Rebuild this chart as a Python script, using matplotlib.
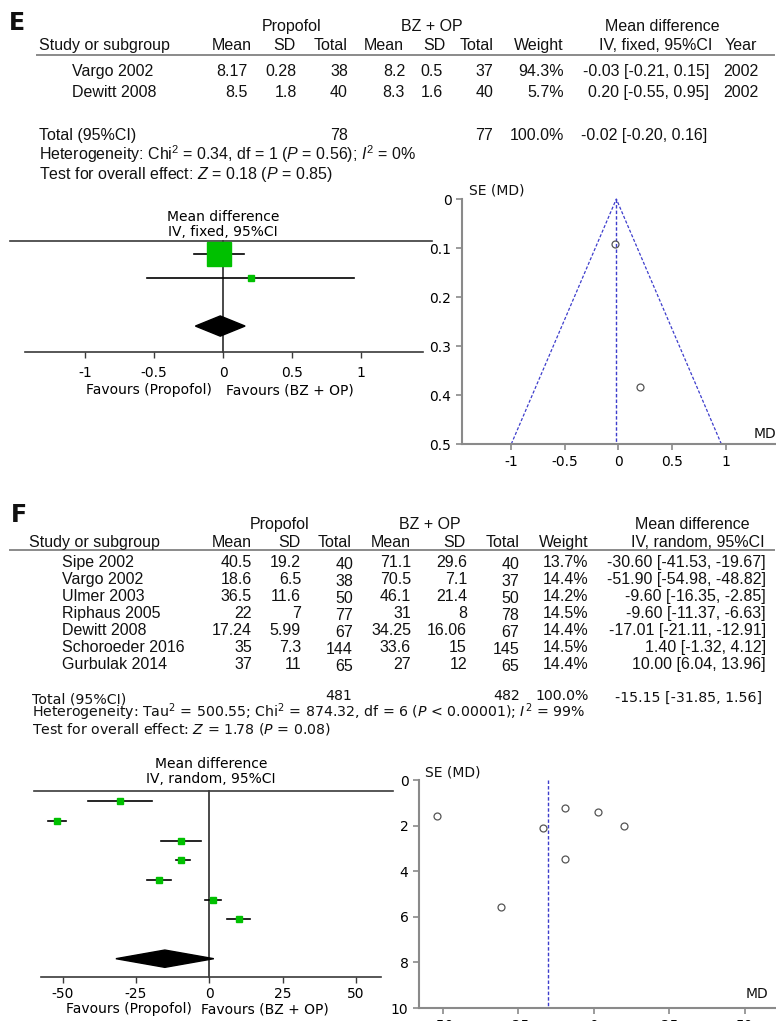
import matplotlib
matplotlib.use('Agg')
import matplotlib.pyplot as plt
from matplotlib import font_manager as fm
from matplotlib.lines import Line2D
from matplotlib.patches import Polygon
import numpy as np

# ---------------- panel E data ----------------
e_studies = ['Vargo 2002', 'Dewitt 2008']
e_prop_mean = ['8.17', '8.5']
e_prop_sd = ['0.28', '1.8']
e_prop_n = [38, 40]
e_bz_mean = ['8.2', '8.3']
e_bz_sd = ['0.5', '1.6']
e_bz_n = [37, 40]
e_weight = [94.3, 5.7]
e_md = [-0.03, 0.20]
e_lo = [-0.21, -0.55]
e_hi = [0.15, 0.95]
e_year = ['2002', '2002']
e_total = [78, 77]
e_pooled = [-0.02, -0.20, 0.16]
e_het = r'Heterogeneity: Chi$^2$ = 0.34, df = 1 ($P$ = 0.56); $I^2$ = 0%'
e_test = r'Test for overall effect: $Z$ = 0.18 ($P$ = 0.85)'
e_ticks = [-1, -0.5, 0, 0.5, 1]
e_tick_labels = ['-1', '-0.5', '0', '0.5', '1']
e_se_ticks = [0, 0.1, 0.2, 0.3, 0.4, 0.5]

# ---------------- panel F data ----------------
f_studies = ['Sipe 2002', 'Vargo 2002', 'Ulmer 2003', 'Riphaus 2005',
             'Dewitt 2008', 'Schoroeder 2016', 'Gurbulak 2014']
f_prop_mean = ['40.5', '18.6', '36.5', '22', '17.24', '35', '37']
f_prop_sd = ['19.2', '6.5', '11.6', '7', '5.99', '7.3', '11']
f_prop_n = [40, 38, 50, 77, 67, 144, 65]
f_bz_mean = ['71.1', '70.5', '46.1', '31', '34.25', '33.6', '27']
f_bz_sd = ['29.6', '7.1', '21.4', '8', '16.06', '15', '12']
f_bz_n = [40, 37, 50, 78, 67, 145, 65]
f_weight = [13.7, 14.4, 14.2, 14.5, 14.4, 14.5, 14.4]
f_md = [-30.60, -51.90, -9.60, -9.60, -17.01, 1.40, 10.00]
f_lo = [-41.53, -54.98, -16.35, -11.37, -21.11, -1.32, 6.04]
f_hi = [-19.67, -48.82, -2.85, -6.63, -12.91, 4.12, 13.96]
f_total = [481, 482]
f_pooled = [-15.15, -31.85, 1.56]
f_het = (r'Heterogeneity: Tau$^2$ = 500.55; Chi$^2$ = 874.32, df = 6 '
         r'($P$ < 0.00001); $I^2$ = 99%')
f_test = r'Test for overall effect: $Z$ = 1.78 ($P$ = 0.08)'
f_ticks = [-50, -25, 0, 25, 50]
f_se_ticks = [0, 2, 4, 6, 8, 10]


def pick_font(names):
    for n in names:
        try:
            fm.findfont(fm.FontProperties(family=n), fallback_to_default=False)
            return n
        except ValueError:
            pass
    return 'DejaVu Sans'


NARROW = pick_font(['Liberation Sans Narrow', 'DejaVu Sans Condensed', 'Liberation Sans'])
WIDE = 'DejaVu Sans'
plt.rcParams['font.family'] = WIDE
plt.rcParams['mathtext.fontset'] = 'custom'
plt.rcParams['mathtext.rm'] = NARROW
plt.rcParams['mathtext.it'] = NARROW + ':italic'

W, H = 776, 1021
fig = plt.figure(figsize=(W / 100, H / 100), dpi=100)

GREEN = '#00c000'
DARK = '#3a3a3a'
GREY = '#8a8a8a'
BLUE = '#3d3dcc'


def put(x, yc, s, ha='left', size=11.5, family=NARROW, **kw):
    # yc is the visual centre of the capitals, in pixels from the top
    base = yc + 0.36 * size * 100 / 72
    fig.text(x / W, 1 - base / H, s, ha=ha, va='baseline', fontsize=size,
             family=family, color='#111111', **kw)


def hline(x0, x1, y, color=GREY, lw=1.4):
    fig.add_artist(Line2D([x0 / W, x1 / W], [1 - y / H, 1 - y / H],
                          color=color, lw=lw, transform=fig.transFigure))


def px_axes(left, top, right, bottom):
    return fig.add_axes([left / W, 1 - bottom / H, (right - left) / W, (bottom - top) / H])


def fmt_ci(m, lo, hi):
    return f'{m:.2f} [{lo:.2f}, {hi:.2f}]'


# ================= E table =================
put(9, 21, 'E', size=17, family=WIDE, fontweight='bold')
put(292, 25, 'Propofol', ha='center')
put(432, 25, 'BZ + OP', ha='center')
put(662, 25, 'Mean difference', ha='center')
put(39, 44, 'Study or subgroup')
e_hdr = ['Mean', 'SD', 'Total', 'Mean', 'SD', 'Total', 'Weight', 'IV, fixed, 95%CI', 'Year']
e_hdr_x = [252, 296, 347, 404, 446, 494, 564, 712, 757]
for s, x in zip(e_hdr, e_hdr_x):
    put(x, 44, s, ha='right')
hline(37, 774, 55)

e_col_x = [248, 297, 348, 405, 443, 493, 564, 709, 759]
e_row_y = [70, 91]
for i, name in enumerate(e_studies):
    y = e_row_y[i]
    put(72, y, name)
    vals = [e_prop_mean[i], e_prop_sd[i], str(e_prop_n[i]), e_bz_mean[i], e_bz_sd[i],
            str(e_bz_n[i]), f'{e_weight[i]:.1f}%', fmt_ci(e_md[i], e_lo[i], e_hi[i]), e_year[i]]
    for v, x in zip(vals, e_col_x):
        put(x, y, v, ha='right')

put(39, 134, 'Total (95%CI)')
put(348, 134, str(e_total[0]), ha='right')
put(493, 134, str(e_total[1]), ha='right')
put(564, 134, f'{sum(e_weight):.1f}%', ha='right')
put(707, 134, fmt_ci(*e_pooled), ha='right')
put(39, 154, e_het)
put(39, 173, e_test)

# ================= F table =================
put(11, 513, 'F', size=17, family=WIDE, fontweight='bold')
put(280, 523, 'Propofol', ha='center')
put(430, 523, 'BZ + OP', ha='center')
put(692, 523, 'Mean difference', ha='center')
put(29, 541, 'Study or subgroup')
f_hdr = ['Mean', 'SD', 'Total', 'Mean', 'SD', 'Total', 'Weight', 'IV, random, 95%CI']
f_hdr_x = [252, 301, 352, 411, 466, 519, 589, 765]
for s, x in zip(f_hdr, f_hdr_x):
    put(x, 541, s, ha='right')
hline(10, 774, 550)

f_col_x = [252, 301, 353, 411, 467, 519, 588, 766]
f_col_dy = [0, 0, 2.5, 0, 0, 2.5, 0, 0]
for i, name in enumerate(f_studies):
    y = 561 + 17 * i
    put(62, y, name)
    vals = [f_prop_mean[i], f_prop_sd[i], str(f_prop_n[i]), f_bz_mean[i], f_bz_sd[i],
            str(f_bz_n[i]), f'{f_weight[i]:.1f}%', fmt_ci(f_md[i], f_lo[i], f_hi[i])]
    for v, x, dy in zip(vals, f_col_x, f_col_dy):
        put(x, y + dy, v, ha='right')

FS = 10.2
put(32, 698, 'Total (95%CI)', size=FS, family=WIDE)
put(352, 695, str(f_total[0]), ha='right', size=FS, family=WIDE)
put(520, 695, str(f_total[1]), ha='right', size=FS, family=WIDE)
put(589, 695, '100.0%', ha='right', size=FS, family=WIDE)
put(762, 697, fmt_ci(*f_pooled), ha='right', size=FS, family=WIDE)
put(32, 712, f_het, size=FS, family=WIDE, math_fontfamily='dejavusans')
put(32, 728, f_test, size=FS, family=WIDE, math_fontfamily='dejavusans')


# ================= forest plots =================
def forest(ax, md, lo, hi, weight, pooled, xlim, ylim, bounds, ticks, tick_labels,
           sq_scale, dia_h, pad, header, hdr_y, hdr_x, fav_y, fav_gap):
    n = len(md)
    ax.set_xlim(*xlim)
    ax.set_ylim(*ylim)
    for i in range(n):
        ax.plot([lo[i], hi[i]], [i, i], color='black', lw=1.2, zorder=2)
        ax.plot(md[i], i, marker='s', ms=sq_scale * np.sqrt(weight[i]),
                color=GREEN, mec=GREEN, zorder=3)
    m, l, h = pooled
    ax.add_patch(Polygon([[l, n + 1], [m, n + 1 - dia_h], [h, n + 1], [m, n + 1 + dia_h]],
                         closed=True, color='black', zorder=3))
    ax.plot([0, 0], list(ylim), color=DARK, lw=1.3, zorder=1, clip_on=False)
    for side in ['left', 'right']:
        ax.spines[side].set_visible(False)
    ax.spines['top'].set_color(DARK)
    ax.spines['top'].set_linewidth(1.2)
    ax.spines['bottom'].set_color(DARK)
    ax.spines['bottom'].set_linewidth(1.2)
    ax.spines['bottom'].set_bounds(*bounds)
    ax.set_yticks([])
    ax.set_xticks(ticks)
    ax.set_xticklabels(tick_labels)
    ax.tick_params(axis='x', direction='out', length=4, width=1, color=DARK,
                   labelsize=10, pad=pad)
    ax.patch.set_alpha(0)
    ax.text(hdr_x, hdr_y[0], header[0], ha='center', va='center', fontsize=10)
    ax.text(hdr_x, hdr_y[1], header[1], ha='center', va='center', fontsize=10)
    ax.text(fav_gap[0], fav_y, 'Favours (Propofol)', ha='right', va='center',
            fontsize=10, clip_on=False)
    ax.text(fav_gap[1], fav_y, 'Favours (BZ + OP)', ha='left', va='center',
            fontsize=10, clip_on=False)


ax_fe = px_axes(10, 241, 432, 352)
forest(ax_fe, e_md, e_lo, e_hi, e_weight, e_pooled,
       xlim=(-1.543, 1.514), ylim=(4.08, -0.54), bounds=(-1.435, 1.449),
       ticks=e_ticks, tick_labels=e_tick_labels, sq_scale=1.78, dia_h=0.42, pad=6,
       header=['Mean difference', 'IV, fixed, 95%CI'], hdr_y=[-1.55, -0.93], hdr_x=0.0,
       fav_y=5.67, fav_gap=(-0.08, 0.02))

ax_ff = px_axes(34, 791, 393, 977)
forest(ax_ff, f_md, f_lo, f_hi, f_weight, f_pooled,
       xlim=(-59.8, 62.7), ylim=(8.93, -0.52), bounds=(-57.4, 58.6),
       ticks=f_ticks, tick_labels=[str(t) for t in f_ticks], sq_scale=1.1, dia_h=0.44, pad=3,
       header=['Mean difference', 'IV, random, 95%CI'], hdr_y=[-1.9, -1.12], hdr_x=0.5,
       fav_y=10.56, fav_gap=(-5.9, -2.8))


# ================= funnel plots =================
def funnel(ax, md, lo, hi, pooled, xlim, ylim, xticks, yticks, ytick_labels, draw_cone):
    se = (np.array(hi) - np.array(lo)) / 3.92
    ax.set_xlim(*xlim)
    ax.set_ylim(*ylim)
    m = pooled[0]
    ax.plot([m, m], [0, ylim[0]], color=BLUE, lw=1, ls=(0, (2.5, 1.5)), clip_on=False)
    if draw_cone:
        smax = ylim[0]
        ax.plot([m - 1.96 * smax, m, m + 1.96 * smax], [smax, 0, smax],
                color=BLUE, lw=0.9, ls=(0, (2.5, 1.5)), clip_on=False)
    ax.plot(md, se, 'o', mfc='none', mec='#555555', ms=5, mew=0.9, clip_on=False)
    for side in ['top', 'right']:
        ax.spines[side].set_visible(False)
    for side in ['left', 'bottom']:
        ax.spines[side].set_color(GREY)
        ax.spines[side].set_linewidth(1.5)
    ax.set_xticks(xticks)
    ax.set_xticklabels([f'{t:g}' for t in xticks])
    ax.set_yticks(yticks)
    ax.set_yticklabels(ytick_labels)
    ax.tick_params(direction='out', length=4, width=1.2, color=GREY, labelsize=10, pad=3.6)
    ax.patch.set_alpha(0)


ax_ue = px_axes(462, 199, 776, 444)
funnel(ax_ue, e_md, e_lo, e_hi, e_pooled, xlim=(-1.46, 1.47), ylim=(0.5, 0),
       xticks=e_ticks, yticks=e_se_ticks, ytick_labels=[f'{t:g}' for t in e_se_ticks],
       draw_cone=True)
put(469, 190, 'SE (MD)', size=10, family=WIDE)
put(765, 433, 'MD', ha='center', size=10, family=WIDE)

ax_uf = px_axes(419, 780, 776, 1008)
funnel(ax_uf, f_md, f_lo, f_hi, f_pooled, xlim=(-57.9, 60.3), ylim=(10, 0),
       xticks=f_ticks, yticks=f_se_ticks, ytick_labels=[str(t) for t in f_se_ticks],
       draw_cone=False)
put(425, 772, 'SE (MD)', size=10, family=WIDE)
put(757, 993, 'MD', ha='center', size=10, family=WIDE)

fig.savefig('out.png', dpi=100)
